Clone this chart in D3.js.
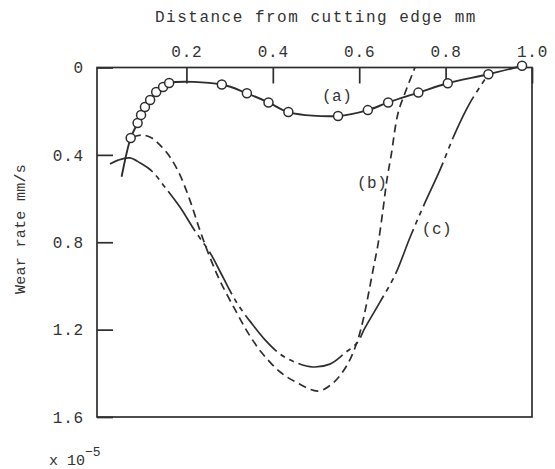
<!DOCTYPE html>
<html>
<head>
<meta charset="utf-8">
<script src="https://cdn.jsdelivr.net/npm/d3@7"></script>
<style>
  body { margin: 0; background: #fff; }
  text { font-family: "Liberation Mono", "DejaVu Sans Mono", monospace; fill: #333; }
</style>
</head>
<body>
<svg id="chart" width="555" height="469"></svg>
<script>
// tick values
const X_TICKS = [0.2, 0.4, 0.6, 0.8, 1.0];
const Y_TICKS = [0, 0.4, 0.8, 1.2, 1.6];

// series (a): wear rate with circles
const A_X = [0.050, 0.071, 0.087, 0.095, 0.104, 0.116, 0.130, 0.146, 0.160, 0.282, 0.340, 0.390, 0.436, 0.551, 0.620, 0.667, 0.737, 0.805, 0.899, 0.977];
const A_Y = [0.500, 0.323, 0.254, 0.217, 0.181, 0.149, 0.112, 0.089, 0.071, 0.078, 0.118, 0.160, 0.204, 0.222, 0.195, 0.160, 0.115, 0.072, 0.031, -0.008];
const A_MARK = [false, true, true, true, true, true, true, true, true, true, true, true, true, true, true, true, true, true, true, true];

// series (b): dashed
const B_X = [0.076, 0.097, 0.120, 0.139, 0.162, 0.185, 0.208, 0.231, 0.255, 0.278, 0.313, 0.343, 0.375, 0.417, 0.458, 0.505, 0.539, 0.572, 0.595, 0.609, 0.620, 0.632, 0.644, 0.655, 0.664, 0.674, 0.690, 0.706, 0.729];
const B_Y = [0.318, 0.309, 0.323, 0.355, 0.410, 0.492, 0.607, 0.744, 0.872, 0.978, 1.110, 1.216, 1.307, 1.394, 1.445, 1.481, 1.445, 1.362, 1.257, 1.156, 1.051, 0.927, 0.804, 0.652, 0.515, 0.401, 0.208, 0.117, 0.000];

// series (c): dash-dot-dot
const C_X = [0.023, 0.042, 0.069, 0.093, 0.120, 0.150, 0.185, 0.220, 0.255, 0.282, 0.317, 0.352, 0.382, 0.417, 0.456, 0.493, 0.532, 0.567, 0.595, 0.613, 0.648, 0.683, 0.718, 0.752, 0.787, 0.822, 0.856, 0.898];
const C_Y = [0.442, 0.424, 0.414, 0.437, 0.474, 0.547, 0.639, 0.749, 0.849, 0.950, 1.078, 1.174, 1.247, 1.312, 1.353, 1.371, 1.358, 1.307, 1.261, 1.193, 1.074, 0.950, 0.776, 0.620, 0.469, 0.300, 0.163, 0.034];

// curve labels
const LABELS = ["(a)", "(b)", "(c)"];
const LABEL_X = [0.549, 0.630, 0.780];
const LABEL_Y = [0.152, 0.553, 0.760];

const svg = d3.select("#chart");
const INK = "#2e2e2e";

const xScale = d3.scaleLinear().domain([-0.007, 1.0]).range([97, 532]);
const yScale = d3.scaleLinear().domain([0, 1.6]).range([67.5, 417]);

// frame
svg.append("rect")
   .attr("x", xScale(-0.007))
   .attr("y", yScale(0))
   .attr("width", xScale(1.0) - xScale(-0.007))
   .attr("height", yScale(1.6) - yScale(0))
   .attr("fill", "none")
   .attr("stroke", INK)
   .attr("stroke-width", 1.7);

const yAxis = d3.axisLeft(yScale)
                .tickValues(Y_TICKS)
                .tickFormat(d => d === 0 ? "0" : d3.format(".1f")(d))
                .tickSizeInner(-16)
                .tickSizeOuter(0)
                .tickPadding(13);

const gy = svg.append("g")
              .attr("transform", `translate(${xScale(-0.007)},0)`)
              .call(yAxis);

const xAxis = d3.axisTop(xScale)
                .tickValues(X_TICKS)
                .tickFormat(d3.format(".1f"))
                .tickSizeInner(-16)
                .tickSizeOuter(0)
                .tickPadding(11);

const gx = svg.append("g")
              .attr("transform", `translate(0,${yScale(0)})`)
              .call(xAxis);

[gx, gy].forEach(g => {
    g.select(".domain").remove();
    g.selectAll(".tick line").attr("stroke", INK).attr("stroke-width", 1.7);
    g.selectAll(".tick text")
     .style("font-family", "'Liberation Mono', monospace")
     .attr("font-size", 16)
     .attr("letter-spacing", "0.8px")
     .attr("fill", "#333");
});

// titles
svg.append("text")
   .attr("x", 155)
   .attr("y", 22)
   .attr("font-size", 16)
   .attr("letter-spacing", "1.5px")
   .text("Distance from cutting edge mm");

svg.append("text")
   .attr("transform", "translate(25,229) rotate(-90)")
   .attr("text-anchor", "middle")
   .attr("font-size", 15)
   .attr("letter-spacing", "0.3px")
   .text("Wear rate mm/s");

const unit = svg.append("text")
                .attr("x", 49)
                .attr("y", 465)
                .attr("font-size", 15);
unit.append("tspan").text("x 10");
unit.append("tspan").attr("dy", -9).attr("font-size", 13).text("\u22125");

// curves
const line = d3.line()
               .x(d => xScale(d[0]))
               .y(d => yScale(d[1]))
               .curve(d3.curveCatmullRom.alpha(0.5));

const aPts = A_X.map((x, i) => [x, A_Y[i]]);
const bPts = B_X.map((x, i) => [x, B_Y[i]]);
const cPts = C_X.map((x, i) => [x, C_Y[i]]);

svg.append("path")
   .attr("d", line(cPts))
   .attr("fill", "none")
   .attr("stroke", INK)
   .attr("stroke-width", 1.7)
   .attr("stroke-dasharray", "48,5,5,5,5,5");

svg.append("path")
   .attr("d", line(bPts))
   .attr("fill", "none")
   .attr("stroke", INK)
   .attr("stroke-width", 1.7)
   .attr("stroke-dasharray", "8,5");

svg.append("path")
   .attr("d", line(aPts))
   .attr("fill", "none")
   .attr("stroke", INK)
   .attr("stroke-width", 1.9);

svg.selectAll("circle.a")
   .data(aPts.filter((d, i) => A_MARK[i]))
   .enter()
   .append("circle")
   .attr("class", "a")
   .attr("cx", d => xScale(d[0]))
   .attr("cy", d => yScale(d[1]))
   .attr("r", 4.5)
   .attr("fill", "#fff")
   .attr("stroke", INK)
   .attr("stroke-width", 1.5);

svg.selectAll("text.lab")
   .data(LABELS)
   .enter()
   .append("text")
   .attr("class", "lab")
   .attr("x", (d, i) => xScale(LABEL_X[i]))
   .attr("y", (d, i) => yScale(LABEL_Y[i]))
   .attr("text-anchor", "middle")
   .attr("font-size", 16)
   .attr("letter-spacing", "0.5px")
   .text(d => d);
</script>
</body>
</html>
